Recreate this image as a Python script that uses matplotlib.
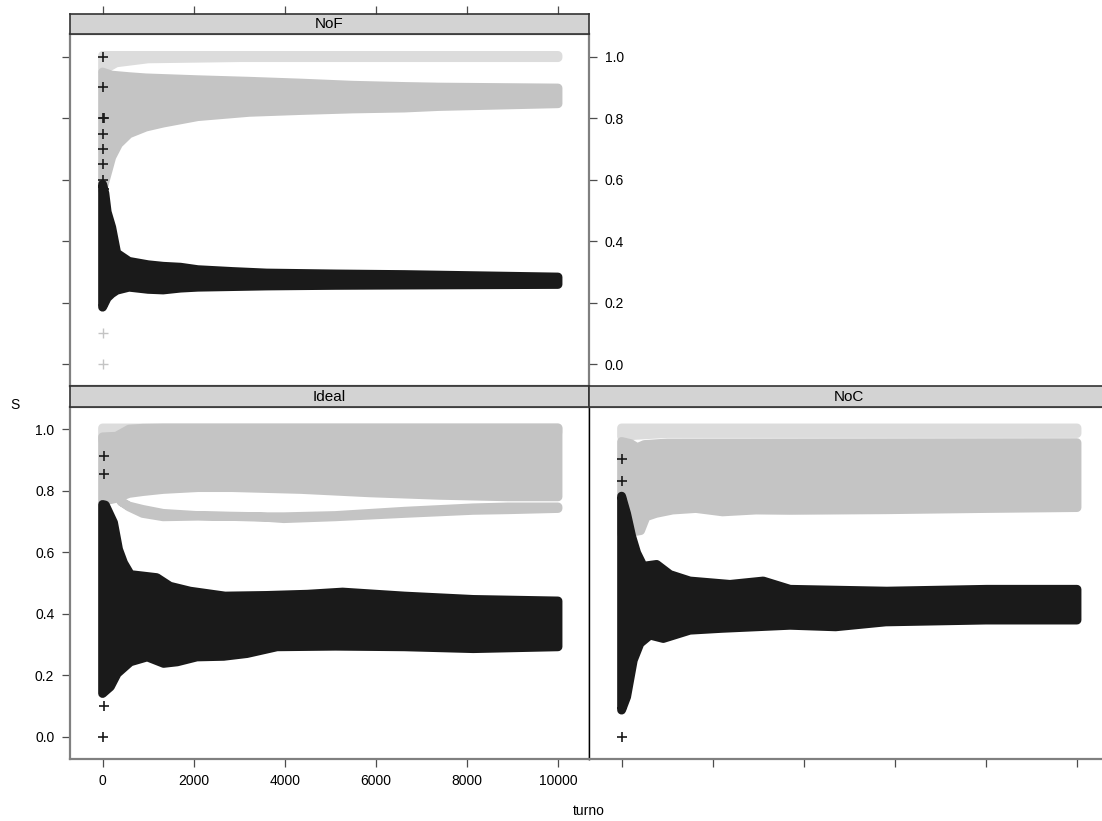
import matplotlib
matplotlib.use('Agg')
import matplotlib.pyplot as plt

plt.rcParams['font.family'] = ['Liberation Sans', 'DejaVu Sans']

# ---------------- data ----------------
panel_names = ['NoF', 'Ideal', 'NoC']
x_ticks = [0, 2000, 4000, 6000, 8000, 10000]
x_ticklabels = ['0', '2000', '4000', '6000', '8000', '10000']
y_ticks = [0.0, 0.2, 0.4, 0.6, 0.8, 1.0]
y_ticklabels = ['0.0', '0.2', '0.4', '0.6', '0.8', '1.0']

# Each band: range of S over turno (upper edge and lower edge)
# --- NoF ---
nof_light_up_t = [0, 10000]
nof_light_up = [1.004, 1.004]
nof_light_lo_t = [0, 300, 1000, 3000, 10000]
nof_light_lo = [0.955, 0.980, 0.993, 0.997, 0.997]

nof_mid_up_t = [0, 200, 350, 580, 950, 1330, 2090, 3220, 4360, 5490, 6630, 7380, 10000]
nof_mid_up = [0.950, 0.940, 0.938, 0.935, 0.931, 0.929, 0.925, 0.920, 0.914, 0.907, 0.903, 0.901, 0.898]
nof_mid_lo_t = [0, 200, 350, 580, 950, 1330, 2090, 3220, 4360, 5490, 6630, 7380, 10000]
nof_mid_lo = [0.565, 0.673, 0.716, 0.749, 0.771, 0.784, 0.805, 0.819, 0.825, 0.830, 0.833, 0.838, 0.847]

nof_dark_up_t = [0, 50, 100, 200, 310, 580, 1000, 1330, 1710, 2090, 2850, 3600, 5110, 6630, 10000]
nof_dark_up = [0.585, 0.555, 0.495, 0.445, 0.361, 0.334, 0.323, 0.318, 0.315, 0.307, 0.301, 0.296, 0.293, 0.291, 0.283]
nof_dark_lo_t = [0, 50, 100, 200, 310, 580, 1000, 1330, 1710, 2090, 2850, 3600, 5110, 6630, 10000]
nof_dark_lo = [0.185, 0.200, 0.215, 0.229, 0.240, 0.250, 0.243, 0.241, 0.247, 0.250, 0.252, 0.254, 0.256, 0.257, 0.259]

nof_dark_pts_t = [0, 0, 0, 0, 0, 0, 0, 30, 30]
nof_dark_pts_s = [1.0, 0.9, 0.8, 0.75, 0.70, 0.65, 0.60, 0.80, 0.57]
nof_mid_pts_t = [0, 0]
nof_mid_pts_s = [0.1, 0.0]

# --- Ideal ---
ideal_light_up_t = [0, 10000]
ideal_light_up = [1.004, 1.004]
ideal_light_lo_t = [0, 300, 600, 10000]
ideal_light_lo = [0.965, 0.975, 0.990, 0.990]

ideal_mid_up_t = [0, 300, 580, 880, 1330, 2090, 2850, 4360, 5870, 7380, 8900, 10000]
ideal_mid_up = [0.975, 0.977, 1.000, 1.003, 1.004, 1.004, 1.004, 1.004, 1.004, 1.004, 1.004, 1.004]
ideal_mid_lo_t = [0, 300, 580, 880, 1330, 2090, 2850, 4360, 5870, 7380, 8900, 10000]
ideal_mid_lo = [0.765, 0.775, 0.791, 0.797, 0.804, 0.810, 0.810, 0.804, 0.793, 0.785, 0.780, 0.780]

ideal_mid2_up_t = [400, 580, 880, 1330, 2090, 2850, 3600, 3980, 5110, 6630, 8140, 8900, 10000]
ideal_mid2_up = [0.765, 0.750, 0.739, 0.726, 0.719, 0.717, 0.715, 0.715, 0.719, 0.733, 0.744, 0.747, 0.747]
ideal_mid2_lo_t = [400, 580, 880, 1330, 2090, 2850, 3600, 3980, 5110, 6630, 8140, 8900, 10000]
ideal_mid2_lo = [0.765, 0.747, 0.726, 0.715, 0.717, 0.716, 0.713, 0.709, 0.715, 0.726, 0.736, 0.738, 0.742]

ideal_dark_up_t = [0, 60, 240, 350, 460, 610, 900, 1190, 1480, 1920, 2690, 3600, 4500, 5270, 6630, 8140, 10000]
ideal_dark_up = [0.755, 0.753, 0.696, 0.609, 0.565, 0.527, 0.522, 0.517, 0.489, 0.473, 0.457, 0.459, 0.463, 0.470, 0.457, 0.446, 0.441]
ideal_dark_lo_t = [0, 170, 320, 610, 980, 1340, 1640, 2070, 2660, 3170, 3830, 5110, 6630, 8140, 10000]
ideal_dark_lo = [0.140, 0.162, 0.205, 0.243, 0.259, 0.238, 0.243, 0.259, 0.261, 0.270, 0.292, 0.294, 0.292, 0.286, 0.292]

ideal_dark_pts_t = [20, 20, 20, 0]
ideal_dark_pts_s = [0.914, 0.854, 0.098, 0.0]

# --- NoC ---
noc_light_up_t = [0, 10000]
noc_light_up = [1.004, 1.004]
noc_light_lo_t = [0, 300, 1000, 10000]
noc_light_lo = [0.975, 0.980, 0.986, 0.986]

noc_mid_up_t = [0, 200, 344, 500, 1000, 10000]
noc_mid_up = [0.960, 0.953, 0.940, 0.950, 0.955, 0.956]
noc_mid_lo_t = [0, 417, 536, 756, 1120, 1632, 2218, 2950, 3684, 5800, 8000, 10000]
noc_mid_lo = [0.660, 0.670, 0.715, 0.726, 0.737, 0.742, 0.731, 0.737, 0.736, 0.738, 0.742, 0.745]

noc_dark_up_t = [0, 110, 220, 330, 476, 770, 1063, 1500, 2380, 3110, 3700, 5822, 8018, 10000]
noc_dark_up = [0.782, 0.725, 0.652, 0.598, 0.554, 0.560, 0.527, 0.506, 0.495, 0.506, 0.479, 0.473, 0.479, 0.479]
noc_dark_lo_t = [0, 110, 256, 403, 623, 915, 1500, 2200, 3700, 4700, 5800, 8000, 10000]
noc_dark_lo = [0.086, 0.129, 0.248, 0.303, 0.330, 0.319, 0.346, 0.352, 0.362, 0.357, 0.373, 0.379, 0.379]

noc_dark_pts_t = [0, 0, 0]
noc_dark_pts_s = [0.902, 0.83, 0.0]

# ---------------- styling ----------------
C_LIGHT = '#dcdcdc'
C_MID = '#c4c4c4'
C_DARK = '#1a1a1a'
STRIP_BG = '#d3d3d3'
FRAME = '#808080'
TICK = '#4d4d4d'

W, H = 1102, 821
fig = plt.figure(figsize=(W / 100, H / 100), dpi=100)

XLIM = (-716, 10681)
YLIM = (-0.0715, 1.0722)
MARK_LW = 6.4  # stroke width (pt) mimicking the '+' marker footprint
FS = 10


def px_axes(x0, y_top, w, h):
    return fig.add_axes([x0 / W, 1 - (y_top + h) / H, w / W, h / H])


def band(ax, up_t, up, lo_t, lo, color, z):
    xs = list(up_t) + list(lo_t)[::-1]
    ys = list(up) + list(lo)[::-1]
    ax.fill(xs, ys, facecolor=color, edgecolor=color, lw=MARK_LW,
            joinstyle='round', zorder=z)


def pts(ax, t, s, color, z, mew=1.2):
    ax.plot(t, s, linestyle='none', marker='+', ms=6.5, mew=mew,
            color=color, zorder=z)


def style_frame(ax):
    for sp in ax.spines.values():
        sp.set_color(FRAME)
        sp.set_linewidth(1.6)
    ax.set_xlim(*XLIM)
    ax.set_ylim(*YLIM)
    ax.tick_params(direction='out', length=5.8, width=0.9, color=TICK,
                   labelsize=FS, pad=5.5)


def strip(x0, y_top, w, label, top_ticks=False):
    s = px_axes(x0, y_top, w, 21)
    s.set_facecolor(STRIP_BG)
    s.set_xlim(*XLIM)
    s.set_ylim(0, 1)
    s.set_yticks([])
    for sp in s.spines.values():
        sp.set_color('#333333')
        sp.set_linewidth(1.2)
    s.text(0.5, 0.5, label, transform=s.transAxes, ha='center', va='center',
           fontsize=11)
    if top_ticks:
        s.xaxis.tick_top()
        s.set_xticks(x_ticks)
        s.set_xticklabels([])
        s.tick_params(axis='x', direction='out', length=5.8, width=0.9,
                      color=TICK)
    else:
        s.set_xticks([])
    return s


# panel geometry in pixels
LX, PW = 70, 519
RX = 589
TOP_STRIP = 13.5
TOP_Y, PH = 34.5, 351.5
BOT_STRIP = 386
BOT_Y = 407

# ---- NoF (top-left) ----
ax1 = px_axes(LX, TOP_Y, PW, PH)
style_frame(ax1)
band(ax1, nof_light_up_t, nof_light_up, nof_light_lo_t, nof_light_lo, C_LIGHT, 1)
band(ax1, nof_mid_up_t, nof_mid_up, nof_mid_lo_t, nof_mid_lo, C_MID, 2)
pts(ax1, nof_mid_pts_t, nof_mid_pts_s, C_MID, 2, mew=1.0)
band(ax1, nof_dark_up_t, nof_dark_up, nof_dark_lo_t, nof_dark_lo, C_DARK, 3)
pts(ax1, nof_dark_pts_t, nof_dark_pts_s, C_DARK, 4)
ax1.set_xticks([])
ax1.set_yticks(y_ticks)
ax1.set_yticklabels(y_ticklabels)
ax1.tick_params(axis='y', left=True, right=True, labelleft=False, labelright=True)
strip(LX, TOP_STRIP, PW, panel_names[0], top_ticks=True)

# ---- Ideal (bottom-left) ----
ax2 = px_axes(LX, BOT_Y, PW, PH)
style_frame(ax2)
band(ax2, ideal_light_up_t, ideal_light_up, ideal_light_lo_t, ideal_light_lo, C_LIGHT, 1)
band(ax2, ideal_mid_up_t, ideal_mid_up, ideal_mid_lo_t, ideal_mid_lo, C_MID, 2)
band(ax2, ideal_mid2_up_t, ideal_mid2_up, ideal_mid2_lo_t, ideal_mid2_lo, C_MID, 2)
band(ax2, ideal_dark_up_t, ideal_dark_up, ideal_dark_lo_t, ideal_dark_lo, C_DARK, 3)
pts(ax2, ideal_dark_pts_t, ideal_dark_pts_s, C_DARK, 4)
ax2.set_xticks(x_ticks)
ax2.set_xticklabels(x_ticklabels)
ax2.set_yticks(y_ticks)
ax2.set_yticklabels(y_ticklabels)
ax2.tick_params(axis='y', left=True, right=False)
ax2.spines['right'].set_color('black')
ax2.spines['right'].set_linewidth(1.0)
strip(LX, BOT_STRIP, PW, panel_names[1])

# ---- NoC (bottom-right) ----
ax3 = px_axes(RX, BOT_Y, PW, PH)
style_frame(ax3)
band(ax3, noc_light_up_t, noc_light_up, noc_light_lo_t, noc_light_lo, C_LIGHT, 1)
band(ax3, noc_mid_up_t, noc_mid_up, noc_mid_lo_t, noc_mid_lo, C_MID, 2)
band(ax3, noc_dark_up_t, noc_dark_up, noc_dark_lo_t, noc_dark_lo, C_DARK, 3)
pts(ax3, noc_dark_pts_t, noc_dark_pts_s, C_DARK, 4)
ax3.set_xticks(x_ticks)
ax3.set_xticklabels([])
ax3.set_yticks([])
ax3.spines['left'].set_color('black')
ax3.spines['left'].set_linewidth(1.0)
strip(RX, BOT_STRIP, PW, panel_names[2])

fig.text(15 / W, 1 - 405 / H, 'S', ha='center', va='center', fontsize=FS)
fig.text(589 / W, 1 - 811 / H, 'turno', ha='center', va='center', fontsize=FS)

fig.savefig('out.png', dpi=100)
